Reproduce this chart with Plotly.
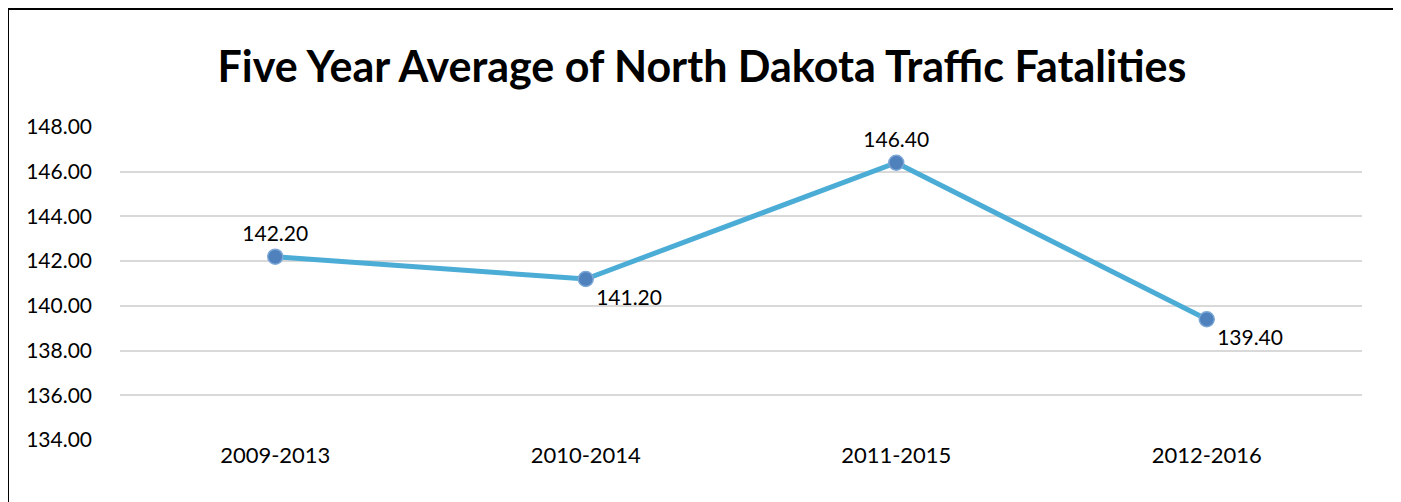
import plotly.graph_objects as go

categories = ["2009-2013", "2010-2014", "2011-2015", "2012-2016"]
values = [142.20, 141.20, 146.40, 139.40]
label_positions = ["top center", "bottom right", "top center", "bottom right"]
y_ticks = [134, 136, 138, 140, 142, 144, 146, 148]

OFF = 8  # page body margin
W, H = 1393, 494
L, R, T, B = 112, 39, 119, 62
pw, ph = W - L - R, H - T - B

def px_x(p):
    return (p - OFF - L) / pw

def px_y(p):
    return (H - B - (p - OFF)) / ph

FONT = "Lato, Carlito, Calibri, sans-serif"

fig = go.Figure()
fig.add_trace(go.Scatter(
    x=categories, y=values,
    mode="lines+markers+text",
    line=dict(color="#4BACD6", width=5),
    marker=dict(size=15, color="#4F81BD", line=dict(color="#7BA7D6", width=1.5)),
    text=[f"{v:.2f}" for v in values],
    textposition=label_positions,
    textfont=dict(family=FONT, size=21, color="#000000"),
    cliponaxis=False,
    showlegend=False,
))

fig.update_layout(
    width=W, height=H,
    margin=dict(l=L, r=R, t=T, b=B),
    paper_bgcolor="white", plot_bgcolor="white",
    title=dict(
        text="<b>Five Year Average of North Dakota Traffic Fatalities</b>",
        x=(702 - OFF) / W, xanchor="center", xref="container",
        y=1 - (67 - OFF) / H, yanchor="middle", yref="container",
        font=dict(family=FONT, size=43, color="#000000"),
    ),
    xaxis=dict(
        type="category", range=[-0.5, 3.5],
        showgrid=False, showline=False, zeroline=False, ticks="",
        tickfont=dict(family=FONT, size=22, color="#000000"),
    ),
    yaxis=dict(
        range=[134, 148], tickvals=y_ticks,
        ticktext=[f"{v:.2f}" for v in y_ticks],
        showgrid=True, gridcolor="#D9D9D9", gridwidth=1.5,
        showline=False, zeroline=False, ticks="",
        ticklabelstandoff=27,
        tickfont=dict(family=FONT, size=21, color="#000000"),
    ),
    shapes=[dict(
        type="rect", xref="paper", yref="paper",
        x0=px_x(8), x1=px_x(1396), y0=px_y(540), y1=px_y(9),
        line=dict(color="#000000", width=2), fillcolor="rgba(0,0,0,0)", layer="above",
    )],
)

fig.write_html("out.html")
